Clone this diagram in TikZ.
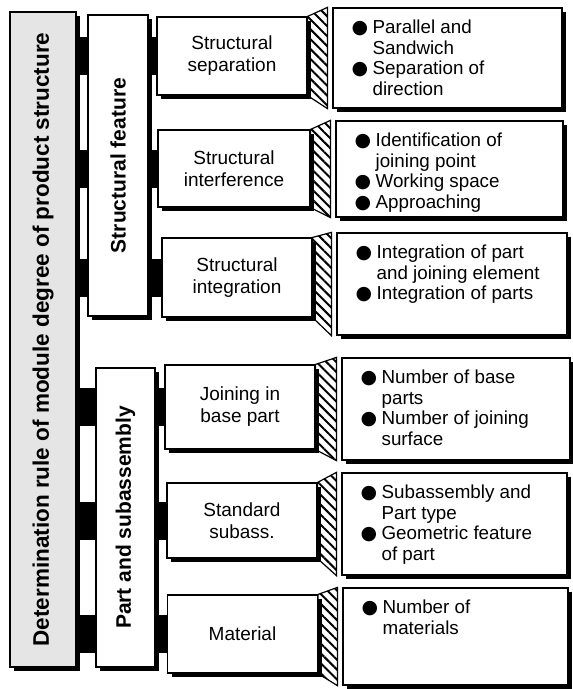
\documentclass[tikz,border=0pt]{standalone}
\usepackage{fontspec}
\setmainfont{Liberation Sans}
\newfontfamily\dotfont{DejaVu Sans}
\usetikzlibrary{shadows,patterns.meta,backgrounds}

\newcommand{\bul}{{\dotfont\fontsize{19}{19}\selectfont ●}}

\tikzset{
  boxshadow/.style={drop shadow={shadow xshift=4pt, shadow yshift=-4pt, fill=black, opacity=1}},
  mainbox/.style={draw, line width=1.2pt, fill=black!10, inner sep=0pt, boxshadow},
  groupbox/.style={draw, line width=1.2pt, fill=white, inner sep=0pt, boxshadow},
  itembox/.style={draw, line width=1.2pt, fill=white, inner sep=0pt, minimum width=150pt, align=center, font=\fontsize{19}{22}\selectfont, boxshadow},
  notebox/.style={draw, line width=1.2pt, fill=white, inner sep=0pt, boxshadow},
  notetext/.style={anchor=north west, inner sep=0pt, font=\fontsize{18.8}{20.5}\selectfont},
  vlabel/.style={rotate=90, inner sep=0pt, font=\bfseries\fontsize{21}{21}\selectfont},
  link/.style={line width=38pt},
  wedge/.style={draw, line width=1.2pt, pattern={Lines[angle=-45,distance=7pt,line width=2pt]}}
}

\begin{document}
\begin{tikzpicture}[x=1pt,y=-1pt]
    \useasboundingbox (0,0) rectangle (573,689);

    % left column
    \node[mainbox, minimum width=66pt, minimum height=655pt] (rule) at (43,339.5) {};
    \node[vlabel, font=\bfseries\fontsize{22.5}{22.5}\selectfont] (rulet) at (rule.center) {Determination rule of module degree of product structure};

    % groups
    \node[groupbox, minimum width=60pt, minimum height=301pt] (feat) at (118,165.5) {};
    \node[vlabel] (featt) at (feat.center) {Structural feature};
    \node[groupbox, minimum width=59pt, minimum height=299pt] (part) at (125.5,517.5) {};
    \node[vlabel] (partt) at (part.center) {Part and subassembly};

    % items
    \node[itembox, minimum height=78pt] (sep) at (232,56) {Structural\\separation};
    \node[itembox, minimum width=152pt, minimum height=77pt] (intf) at (234,168.5) {Structural\\interference};
    \node[itembox, minimum height=79pt] (integ) at (237,277.5) {Structural\\integration};
    \node[itembox, minimum height=84pt] (join) at (240,407) {Joining in\\base part};
    \node[itembox, minimum height=75pt] (std) at (242,520.5) {Standard\\subass.};
    \node[itembox, minimum height=78pt] (mat) at (242.5,634) {Material};

    % notes
    \node[notebox, minimum width=229pt, minimum height=100pt] (n1) at (447.5,58) {};
    \node[notebox, minimum width=227pt, minimum height=96pt] (n2) at (449.5,169) {};
    \node[notebox, minimum width=230pt, minimum height=102pt] (n3) at (452,284) {};
    \node[notebox, minimum width=228pt, minimum height=102pt] (n4) at (456,409) {};
    \node[notebox, minimum width=225pt, minimum height=102pt] (n5) at (454.5,524) {};
    \node[notebox, minimum width=225pt, minimum height=97pt] (n6) at (455.5,636.5) {};

    \node[notetext] (n1t) at ([xshift=19pt,yshift=-12pt]n1.north west) {\begin{tabular}{@{}p{21pt}@{}l@{}}
        \bul & Parallel and\\ & Sandwich\\ \bul & Separation of\\ & direction\end{tabular}};
    \node[notetext] (n2t) at ([xshift=19pt,yshift=-12pt]n2.north west) {\begin{tabular}{@{}p{21pt}@{}l@{}}
        \bul & Identification of\\ & joining point\\ \bul & Working space\\ \bul & Approaching\end{tabular}};
    \node[notetext] (n3t) at ([xshift=19pt,yshift=-12pt]n3.north west) {\begin{tabular}{@{}p{21pt}@{}l@{}}
        \bul & Integration of part\\ & and joining element\\ \bul & Integration of parts\end{tabular}};
    \node[notetext] (n4t) at ([xshift=19pt,yshift=-12pt]n4.north west) {\begin{tabular}{@{}p{21pt}@{}l@{}}
        \bul & Number of base\\ & parts\\ \bul & Number of joining\\ & surface\end{tabular}};
    \node[notetext] (n5t) at ([xshift=19pt,yshift=-12pt]n5.north west) {\begin{tabular}{@{}p{21pt}@{}l@{}}
        \bul & Subassembly and\\ & Part type\\ \bul & Geometric feature\\ & of part\end{tabular}};
    \node[notetext] (n6t) at ([xshift=19pt,yshift=-12pt]n6.north west) {\begin{tabular}{@{}p{21pt}@{}l@{}}
        \bul & Number of\\ & materials\end{tabular}};

    % bars and hatched wedges behind the boxes
    \begin{scope}[on background layer]
        \foreach \i/\n in {sep/n1, intf/n2, integ/n3, join/n4, std/n5, mat/n6} {
            \draw[link] (rule.center |- \i.center) -- (\i.west);
            \path[wedge] (\i.north east) -- ([xshift=-5pt]\n.north west) -- ([xshift=-5pt]\n.south west) -- (\i.south east) -- cycle;
        }
    \end{scope}
\end{tikzpicture}
\end{document}
